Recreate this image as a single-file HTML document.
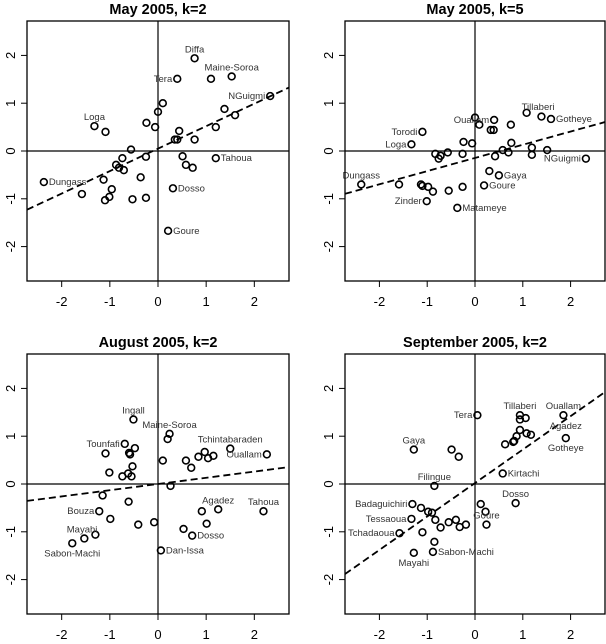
<!DOCTYPE html>
<html><head><meta charset="utf-8"><style>
html,body{margin:0;padding:0;background:#fff}
svg{display:block;font-family:"Liberation Sans",sans-serif}
</style></head><body>
<svg id="chart" width="606" height="644" viewBox="0 0 606 644"></svg>
<script>
const titles = ["May 2005, k=2","May 2005, k=5","August 2005, k=2","September 2005, k=2"];
const ticks = [-2,-1,0,1,2];
const xs1 = [0.76,0.40,1.10,1.53,2.33,0.10,0.00,1.38,1.60,1.20,-0.24,-0.06,-1.32,-1.09,0.44,0.35,0.40,0.76,-0.56,-0.25,0.51,1.20,-0.74,0.58,0.72,-0.87,-0.81,-0.71,-0.36,-1.13,-2.37,-0.96,-1.58,-1.01,-1.10,-0.53,-0.25,0.31,0.21];
const ys1 = [1.94,1.51,1.51,1.56,1.15,1.00,0.82,0.88,0.75,0.50,0.59,0.50,0.52,0.40,0.42,0.24,0.24,0.24,0.03,-0.12,-0.11,-0.15,-0.15,-0.29,-0.35,-0.29,-0.35,-0.40,-0.55,-0.60,-0.65,-0.80,-0.90,-0.96,-1.03,-1.01,-0.98,-0.78,-1.67];
const labels1 = [["Diffa","T",0],["Tera","L",1],["Maine-Soroa","T",3],["NGuigmi","L",4],["Loga","T",12],["Tahoua","R",21],["Dungass","R",30],["Dosso","R",37],["Goure","R",38]];
const line1 = [0.05,0.47];
const xs2 = [1.08,1.39,1.59,0.40,0.00,0.09,0.75,0.33,0.39,-1.10,-1.33,-0.24,-0.06,0.76,1.19,1.51,0.58,0.70,1.19,0.42,2.32,-0.83,-0.72,-0.76,-0.57,-0.26,0.30,0.50,0.19,-2.38,-1.59,-1.13,-1.10,-0.98,-0.88,-0.55,-0.26,-1.01,-0.37];
const ys2 = [0.80,0.72,0.67,0.65,0.70,0.55,0.55,0.44,0.44,0.40,0.14,0.19,0.16,0.17,0.07,0.02,0.02,-0.03,-0.08,-0.11,-0.16,-0.06,-0.10,-0.16,-0.03,-0.06,-0.42,-0.51,-0.72,-0.70,-0.70,-0.70,-0.73,-0.75,-0.85,-0.83,-0.75,-1.05,-1.19];
const labels2 = [["Tillaberi","TR",0],["Gotheye","R",2],["Ouallam","L",3],["Torodi","L",9],["Loga","L",10],["NGuigmi","L",20],["Gaya","R",27],["Goure","R",28],["Dungass","T",29],["Zinder","L",37],["Matameye","R",38]];
const line2 = [-0.145,0.276];
const xs3 = [-0.51,0.24,0.20,-0.69,-1.09,-0.48,-0.60,-0.58,-0.53,-1.01,-0.74,-0.62,-0.55,0.10,0.58,0.69,0.84,0.97,1.04,1.15,1.50,2.26,0.26,-1.15,-0.61,-1.22,-0.99,-0.41,-0.08,1.25,0.91,2.19,1.01,0.53,0.71,0.06,-1.30,-1.53,-1.78];
const ys3 = [1.35,1.05,0.94,0.84,0.64,0.75,0.65,0.62,0.37,0.24,0.16,0.22,0.16,0.49,0.49,0.34,0.57,0.67,0.54,0.59,0.74,0.62,-0.04,-0.24,-0.37,-0.57,-0.73,-0.85,-0.80,-0.53,-0.57,-0.57,-0.83,-0.94,-1.08,-1.39,-1.06,-1.14,-1.24];
const labels3 = [["Ingall","T",0],["Maine-Soroa","T",1],["Tounfafi","L",3],["Tchintabaraden","T",20],["Ouallam","L",21],["Bouza","L",25],["Agadez","T",29],["Tahoua","T",31],["Dosso","R",34],["Dan-Issa","R",35],["Mayahi","TL",36],["Sabon-Machi","B",38]];
const line3 = [0.0,0.13];
const xs4 = [0.05,0.94,0.94,1.06,1.85,0.94,1.08,1.17,0.87,0.80,0.82,0.63,1.90,-1.28,-0.49,-0.34,0.58,-0.85,0.85,0.12,0.22,0.24,-1.31,-1.13,-0.98,-0.90,-0.83,-0.72,-0.55,-0.40,-0.32,-0.19,-1.33,-1.10,-1.58,-0.85,-0.88,-1.28];
const ys4 = [1.44,1.44,1.35,1.38,1.44,1.13,1.06,1.03,1.00,0.88,0.90,0.83,0.96,0.72,0.72,0.57,0.22,-0.04,-0.40,-0.42,-0.58,-0.85,-0.42,-0.50,-0.58,-0.60,-0.75,-0.91,-0.80,-0.75,-0.90,-0.85,-0.73,-1.01,-1.03,-1.21,-1.42,-1.44];
const labels4 = [["Tera","L",0],["Tillaberi","T",1],["Ouallam","T",4],["Agadez","TA",12],["Gotheye","B",12],["Gaya","T",13],["Kirtachi","R",16],["Filingue","T",17],["Dosso","T",18],["Goure","T",21],["Badaguichiri","L",22],["Tessaoua","L",32],["Tchadaoua","L",34],["Sabon-Machi","R",36],["Mayahi","B",37]];
const line4 = [0.02,0.70];

const NS="http://www.w3.org/2000/svg";
const svg=document.getElementById('chart');
const LIM=2.72;
const boxes=[{l:27,r:289,t:21,b:281},{l:345,r:605,t:21,b:281},{l:27,r:289,t:354,b:614},{l:345,r:605,t:354,b:614}];
const data=[[xs1,ys1,labels1,line1],[xs2,ys2,labels2,line2],[xs3,ys3,labels3,line3],[xs4,ys4,labels4,line4]];
function mk(tag,attrs,parent){const e=document.createElementNS(NS,tag);for(const k in attrs)e.setAttribute(k,attrs[k]);(parent||svg).appendChild(e);return e;}

data.forEach((d,pi)=>{
  const B=boxes[pi];
  const sx=v=>B.l+(v+LIM)/(2*LIM)*(B.r-B.l);
  const sy=v=>B.b-(v+LIM)/(2*LIM)*(B.b-B.t);
  const g=mk('g',{});
  
  
  const t=mk('text',{x:(B.l+B.r)/2,y:B.t-7,'text-anchor':'middle','font-size':'14.5','font-weight':'bold',fill:'#000'},g);
  t.textContent=titles[pi];
  
  
  // axes lines
  const zx=mk('line',{x1:sx(0),x2:sx(0),y1:B.t,y2:B.b,stroke:'#000','stroke-width':1.2},g);
  
  
  const zy=mk('line',{x1:B.l,x2:B.r,y1:sy(0),y2:sy(0),stroke:'#000','stroke-width':1.2},g);
  
  
  // ticks
  ticks.forEach(v=>{
    mk('line',{x1:sx(v),x2:sx(v),y1:B.b,y2:B.b+6,stroke:'#000','stroke-width':1},g);
    const tx=mk('text',{x:sx(v),y:B.b+25,'text-anchor':'middle','font-size':'13',fill:'#000'},g);
    tx.textContent=v;
    
    
    mk('line',{x1:B.l-6,x2:B.l,y1:sy(v),y2:sy(v),stroke:'#000','stroke-width':1},g);
    const ty=mk('text',{x:0,y:0,transform:`translate(${B.l-12},${sy(v)}) rotate(-90)`,'text-anchor':'middle','font-size':'13',fill:'#000'},g);
    ty.textContent=v;
    
    
  });
  // regression line
  const [a,b]=d[3];
  const cp=mk('clipPath',{id:'clip'+pi},g);
  mk('rect',{x:B.l,y:B.t,width:B.r-B.l,height:B.b-B.t},cp);
  const rl=mk('line',{x1:sx(-LIM),y1:sy(a+b*-LIM),x2:sx(LIM),y2:sy(a+b*LIM),stroke:'#000','stroke-width':1.8,'stroke-dasharray':'7,4','clip-path':`url(#clip${pi})`},g);
  
  
  // points
  d[0].forEach((x,i)=>{
    const c=mk('circle',{cx:sx(x),cy:sy(d[1][i]),r:3.4,fill:'none',stroke:'#000','stroke-width':1.6},g);
    
    
  });
  // labels
  d[2].forEach(([txt,side,idx])=>{
    const px=sx(d[0][idx]),py=sy(d[1][idx]);
    let x=px,y=py+3,anc='middle';
    if(side==='R'){x=px+5;anc='start';}
    else if(side==='L'){x=px-5;anc='end';}
    else if(side==='T'){y=py-6;}
    else if(side==='B'){y=py+13;}
    else if(side==='TR'){x=px-5;y=py-3;anc='start';}
    else if(side==='TL'){x=px+2;y=py-2;anc='end';}
    else if(side==='TA'){x=px;y=py-9;}
    const lt=mk('text',{x:x,y:y,'text-anchor':anc,'font-size':'9.5',fill:'#333'},g);
    lt.textContent=txt;
    
    
  });
  const frame=mk('rect',{x:B.l,y:B.t,width:B.r-B.l,height:B.b-B.t,fill:'none',stroke:'#000','stroke-width':1.3},g);
  
  
});
</script>
</body></html>
